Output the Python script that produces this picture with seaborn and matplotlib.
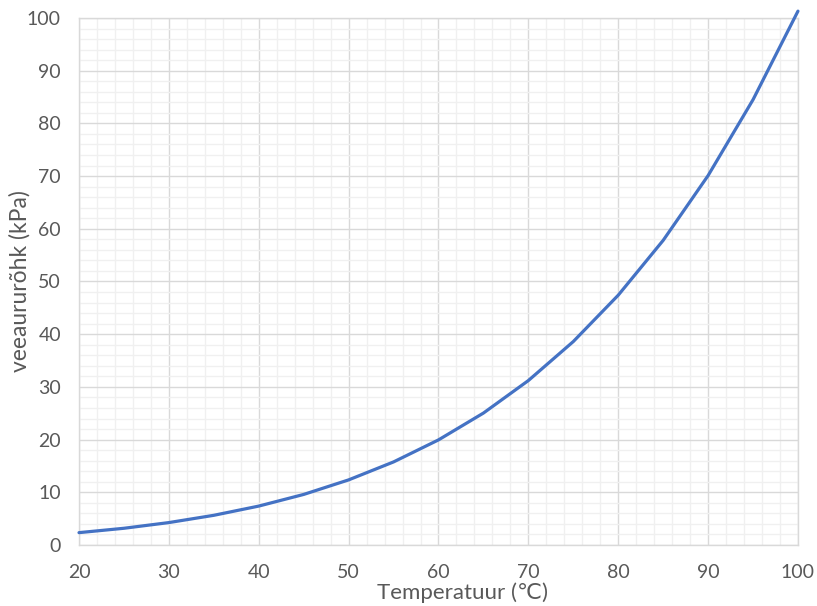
import numpy as np
import pandas as pd
import seaborn as sns
import matplotlib.pyplot as plt
from matplotlib.ticker import MultipleLocator

# Vapour pressure of water
temperatuur = [20, 25, 30, 35, 40, 45, 50, 55, 60, 65, 70, 75, 80, 85, 90, 95, 100]
rohk_kpa = [2.34, 3.17, 4.25, 5.63, 7.38, 9.59, 12.35, 15.76, 19.94, 25.03,
            31.2, 38.6, 47.4, 57.8, 70.1, 84.5, 101.3]

x_ticks = [20, 30, 40, 50, 60, 70, 80, 90, 100]
y_ticks = [0, 10, 20, 30, 40, 50, 60, 70, 80, 90, 100]

df = pd.DataFrame({"T": temperatuur, "p": rohk_kpa})

sns.set_style("white")
plt.rcParams['font.family'] = ['Lato', 'DejaVu Sans']

text_color = "#595959"

fig, ax = plt.subplots(figsize=(8.17, 6.06), dpi=100)
fig.subplots_adjust(left=0.0967, right=0.9767, top=0.9703, bottom=0.1007)

sns.lineplot(data=df, x="T", y="p", ax=ax, color="#4472C4", linewidth=2.3,
             clip_on=False, zorder=5)

ax.set_xlim(20, 100)
ax.set_ylim(0, 100)
ax.set_xticks(x_ticks)
ax.set_yticks(y_ticks)
ax.xaxis.set_minor_locator(MultipleLocator(2))
ax.yaxis.set_minor_locator(MultipleLocator(2))

ax.grid(which="minor", color="#f0f0f0", linewidth=1.0)
ax.grid(which="major", color="#d9d9d9", linewidth=1.0)
ax.set_axisbelow(True)

for s in ax.spines.values():
    s.set_color("#d9d9d9")
    s.set_linewidth(1.0)

ax.tick_params(which="both", length=0)
ax.tick_params(axis="x", pad=14, labelsize=14, labelcolor=text_color)
ax.tick_params(axis="y", pad=13, labelsize=14, labelcolor=text_color)

ax.set_xlabel("Temperatuur (\u2103)", fontsize=16, color=text_color)
ax.set_ylabel("veeaururõhk (kPa)", fontsize=16.5, color=text_color)
ax.xaxis.set_label_coords(0.533, -0.071)
ax.yaxis.set_label_coords(-0.067, 0.5)

fig.savefig("out.png", dpi=100)
